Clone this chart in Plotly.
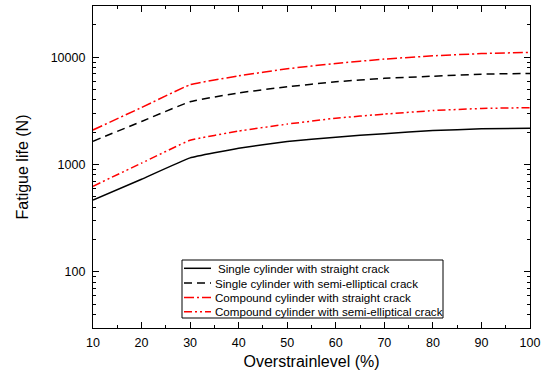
import plotly.graph_objects as go

overstrain = [10, 20, 30, 40, 50, 60, 70, 80, 90, 100]
single_straight = [466, 730, 1154, 1420, 1640, 1800, 1940, 2070, 2150, 2180]
single_semi = [1650, 2520, 3850, 4650, 5300, 5900, 6350, 6650, 6950, 7060]
compound_straight = [2100, 3400, 5540, 6700, 7800, 8750, 9600, 10300, 10800, 11100]
compound_semi = [628, 1030, 1683, 2050, 2380, 2700, 2950, 3180, 3330, 3390]
series_names = [
    "Single cylinder with straight crack",
    "Single cylinder with semi-elliptical crack",
    "Compound cylinder with straight crack",
    "Compound cylinder with semi-elliptical crack",
]
x_ticks = [10, 20, 30, 40, 50, 60, 70, 80, 90, 100]
y_ticks = [100, 1000, 10000]

styles = [("black", "solid"), ("black", "8px,5px"),
          ("red", "10px,3px,2px,3px"), ("red", "8px,3px,2px,3px,2px,3px")]
values = [single_straight, single_semi, compound_straight, compound_semi]

W, H = 545, 376
L, R, T, B = 93, 15, 6, 48
pw, ph = W - L - R, H - T - B


def px_x(p):
    return (p - L) / pw


def px_y(p):
    return (H - B - p) / ph


fig = go.Figure()
for name, vals, (color, dash) in zip(series_names, values, styles):
    fig.add_trace(go.Scatter(x=overstrain, y=vals, mode="lines", name=name, showlegend=False,
                             line=dict(color=color, width=1.5, dash=dash, shape="spline", smoothing=0.3)))

# manual legend box
shapes = [dict(type="rect", xref="paper", yref="paper",
               x0=px_x(182), x1=px_x(443), y0=px_y(318), y1=px_y(260),
               line=dict(color="black", width=1), fillcolor="white", layer="above")]
annotations = []
row_y = [268.3, 283.0, 297.5, 311.8]
for i, (name, (color, dash)) in enumerate(zip(series_names, styles)):
    yy = px_y(row_y[i])
    shapes.append(dict(type="line", xref="paper", yref="paper",
                       x0=px_x(184), x1=px_x(211), y0=yy, y1=yy,
                       line=dict(color=color, width=1.5, dash=dash), layer="above"))
    annotations.append(dict(text=name, xref="paper", yref="paper",
                            x=px_x(216 if i == 0 else 213), y=yy, xanchor="left", yanchor="middle",
                            showarrow=False, font=dict(size=11.6, color="black",
                                                       family="Liberation Sans, Arial")))

axis_common = dict(showline=True, linecolor="black", linewidth=1.2, mirror="ticks",
                   ticks="inside", ticklen=6, tickcolor="black", tickwidth=1,
                   showgrid=False, zeroline=False, automargin=False,
                   tickfont=dict(family="Liberation Sans, Arial", size=12.5, color="black"))

fig.update_layout(
    width=W, height=H,
    margin=dict(l=L, r=R, t=T, b=B),
    paper_bgcolor="white", plot_bgcolor="white",
    font=dict(family="Liberation Sans, Arial", color="black"),
    showlegend=False,
    xaxis=dict(range=[10, 100], tickvals=x_ticks, ticklabelstandoff=3,
               title=dict(text="Overstrainlevel (%)", font=dict(size=16), standoff=6),
               minor=dict(ticks="inside", ticklen=3, tickcolor="black", dtick=5, showgrid=False),
               **axis_common),
    yaxis=dict(type="log", range=[1.477, 4.477], tickvals=y_ticks,
               ticktext=[str(v) for v in y_ticks], ticklabelstandoff=4,
               title=dict(text="Fatigue life (N)", font=dict(size=16), standoff=18),
               minor=dict(ticks="inside", ticklen=3, tickcolor="black", showgrid=False,
                          tickvals=[m * d for d in [10, 100, 1000, 10000] for m in range(2, 10)]),
               **axis_common),
    shapes=shapes,
    annotations=annotations,
)

fig.write_html("out.html", config={"displayModeBar": False},
               post_script="document.body.style.margin='0';")
